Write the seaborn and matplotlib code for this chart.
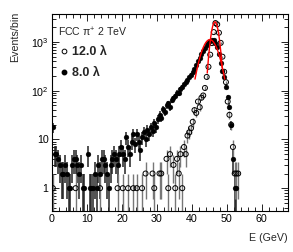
import numpy as np
import pandas as pd
import matplotlib
matplotlib.use('Agg')
import matplotlib.pyplot as plt
import seaborn as sns
from matplotlib.ticker import MultipleLocator, FixedLocator, LogLocator, NullFormatter
from matplotlib.lines import Line2D

# histogram binning: 0.5 GeV bins starting at 0
bin_width = 0.5
n_bins = 110
bin_centres = bin_width * (np.arange(n_bins) + 0.5)

# events per bin, 8.0 lambda (filled) - one row per 5 GeV
counts_8 = [
    18, 5, 5, 4, 3, 2, 2, 3, 2, 1,
    1, 3, 4, 4, 3, 2, 3, 1, 1, 0,
    5, 1, 1, 1, 2, 1, 3, 2, 4, 4,
    3, 2, 1, 3, 4, 5, 4, 3, 5, 7,
    5, 4, 11, 7, 5, 9, 13, 8, 13, 9,
    6, 11, 14, 10, 16, 13, 18, 15, 22, 18,
    26, 32, 28, 42, 36, 50, 55, 46, 64, 70,
    78, 92, 88, 108, 118, 135, 150, 165, 190, 215,
    240, 275, 330, 400, 470, 560, 650, 760, 870, 970,
    1050, 1100, 1080, 950, 800, 560, 370, 260, 190, 120,
    75, 47, 20, 4, 1, 1, 0, 0, 0, 0,
]

# events per bin, 12.0 lambda (open)
counts_12 = [
    1, 0, 0, 0, 0, 0, 0, 0, 0, 0,
    0, 0, 0, 1, 0, 0, 0, 0, 0, 0,
    0, 0, 0, 0, 0, 0, 0, 1, 0, 0,
    0, 0, 0, 0, 0, 0, 0, 1, 0, 0,
    1, 0, 0, 1, 0, 0, 1, 0, 1, 0,
    0, 1, 0, 2, 0, 0, 0, 2, 1, 0,
    0, 2, 2, 0, 0, 4, 1, 5, 0, 3,
    1, 4, 2, 5, 1, 7, 5, 12, 14, 17,
    23, 40, 35, 60, 46, 72, 80, 114, 192, 310,
    550, 950, 1600, 2450, 2300, 1550, 960, 500, 245, 150,
    60, 32, 20, 7, 2, 2, 2, 0, 0, 0,
]

# gaussian fits (amplitude, mean, sigma, fit range)
fit_12 = dict(amp=2600, mean=46.6, sigma=1.0, lo=44.4, hi=48.7)
fit_8 = dict(amp=1120, mean=45.15, sigma=2.2, lo=40.9, hi=49.4)

sns.set_theme(style='ticks')
plt.rcParams['font.family'] = ['Liberation Sans', 'DejaVu Sans']
plt.rcParams['mathtext.fontset'] = 'custom'
plt.rcParams['mathtext.rm'] = 'Liberation Sans'
plt.rcParams['mathtext.default'] = 'regular'

fig = plt.figure(figsize=(2.93, 2.52), dpi=100)
ax = fig.add_axes([52 / 293, 41 / 252, 236 / 293, 197 / 252])


def to_frame(counts):
    c = np.asarray(counts, dtype=float)
    keep = c > 0
    df = pd.DataFrame({'E': bin_centres[keep], 'N': c[keep]})
    df['err'] = np.sqrt(df['N'])
    df['err_lo'] = np.minimum(df['err'], df['N'] - 1e-3)
    return df


df8 = to_frame(counts_8)
df12 = to_frame(counts_12)

# error bars
ax.errorbar(df8['E'], df8['N'], yerr=[df8['err_lo'], df8['err']], fmt='none',
            ecolor='#222222', elinewidth=1.1, capsize=0, zorder=1)
ax.errorbar(df12['E'], df12['N'], yerr=[df12['err_lo'], df12['err']], fmt='none',
            ecolor='#777777', elinewidth=1.0, capsize=0, zorder=1)

# markers
sns.scatterplot(data=df8, x='E', y='N', ax=ax, marker='o', s=12,
                color='black', edgecolor='black', linewidth=0.3, zorder=3)
sns.scatterplot(data=df12, x='E', y='N', ax=ax, marker='o', s=13,
                facecolor='none', edgecolor='black', linewidth=0.7, zorder=3)

# fit curves
for fit in (fit_8, fit_12):
    xx = np.linspace(fit['lo'], fit['hi'], 200)
    yy = fit['amp'] * np.exp(-0.5 * ((xx - fit['mean']) / fit['sigma']) ** 2)
    sns.lineplot(x=xx, y=yy, ax=ax, color='red', linewidth=1.0, zorder=4)

ax.set_yscale('log')
ax.set_xlim(0, 67.5)
ax.set_ylim(0.34, 3760)

ax.xaxis.set_major_locator(MultipleLocator(10))
ax.xaxis.set_minor_locator(MultipleLocator(2))
ax.yaxis.set_major_locator(FixedLocator([1, 10, 100, 1000]))
ax.set_yticklabels(['1', '10', '$10^{2}$', '$10^{3}$'])
ax.yaxis.set_minor_locator(LogLocator(base=10, subs=np.arange(2, 10)))
ax.yaxis.set_minor_formatter(NullFormatter())

ax.tick_params(which='both', direction='in', top=True, right=True,
               width=0.6, labelsize=7.7, colors='black')
ax.tick_params(which='major', length=5, pad=2.5)
ax.tick_params(which='minor', length=2.6)
for sp in ax.spines.values():
    sp.set_linewidth(0.8)
    sp.set_color('black')

ax.set_ylabel('Events/bin', loc='top', fontsize=7.7)
ax.yaxis.set_label_coords(-0.137, 1.012)
ax.set_xlabel('E (GeV)', loc='right', fontsize=7.7)
ax.xaxis.set_label_coords(1.0, -0.11)

ax.text(0.025, 0.885, r'FCC π$^{+}$ 2 TeV', transform=ax.transAxes,
        fontsize=7.6, va='baseline')

handles = [
    Line2D([], [], ls='none', marker='o', ms=3.4, mfc='none', mec='black', mew=0.7),
    Line2D([], [], ls='none', marker='o', ms=3.2, mfc='black', mec='black'),
]
ax.legend(handles, ['12.0 λ', '8.0 λ'], loc='upper left', bbox_to_anchor=(0.03, 0.838),
          frameon=False, borderpad=0, borderaxespad=0, handlelength=0.8,
          handletextpad=0.25, labelspacing=0.74, prop={'weight': 'bold', 'size': 9})

fig.savefig('out.png', dpi=100)
